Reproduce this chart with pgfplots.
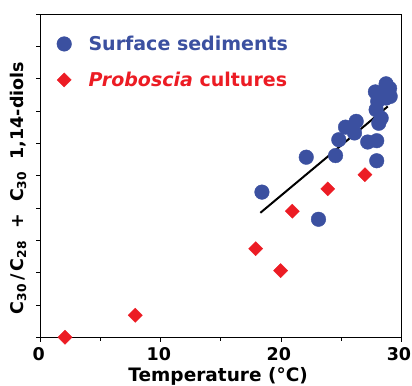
\documentclass[border=0pt]{standalone}
\usepackage{pgfplots}
\pgfplotsset{compat=1.18}
\usepackage{fontspec}
\setmainfont{DejaVu Sans}[ItalicFont={DejaVu Sans Oblique},BoldFont={DejaVu Sans Bold},BoldItalicFont={DejaVu Sans Bold Oblique}]
\definecolor{sedblue}{RGB}{59,80,160}
\definecolor{probred}{RGB}{236,28,36}
\pgfplotstableread{
x y
18.42 4.49
22.11 5.57
23.13 3.65
24.55 5.62
24.82 6.11
25.38 6.50
26.13 6.32
26.27 6.68
27.23 6.04
27.98 6.08
27.98 5.46
27.87 7.59
27.93 7.04
28.06 7.30
28.15 6.62
28.35 6.78
28.76 7.84
28.89 7.56
28.76 7.40
29.10 7.45
29.05 7.70
}\sediments
\pgfplotstableread{
x y
2.02 0.00
7.87 0.68
17.90 2.74
19.98 2.06
20.95 3.90
23.90 4.59
27.00 5.03
}\cultures
\pgfplotstableread{
x y
18.29 3.85
28.90 7.14
}\fitline
\begin{document}
\begin{tikzpicture}
\begin{axis}[
  scale only axis, width=360pt, height=323pt,
  xmin=0, xmax=30, ymin=0, ymax=10,
  clip=false,
  xtick={0,10,20,30}, minor xtick={5,15,25},
  ytick={0,1,...,10}, yticklabels={},
  tick align=outside, xtick pos=left, ytick pos=left,
  major tick length=4.5pt, minor tick length=3.5pt,
  axis line style={line width=0.8pt},
  every tick/.style={black, line width=0.8pt},
  /pgf/number format/assume math mode=true,
  xticklabel style={font=\fontsize{17.5}{20}\selectfont\bfseries, inner sep=0pt, yshift=-6pt, xshift=-2pt},
  xlabel={Temperature (°C)},
  ylabel={C\textsubscript{30}\,/\,C\textsubscript{28}\ \ +\ \ C\textsubscript{30}\ \ 1,14-diols},
  xlabel style={font=\fontsize{18.5}{21}\selectfont\bfseries, inner sep=0pt, at={(axis description cs:0.4925,0)}, anchor=center, yshift=-39pt},
  ylabel style={font=\fontsize{17.5}{20}\selectfont\bfseries, at={(axis description cs:-0.063,0.462)}, anchor=center},
  legend style={at={(axis cs:1.08,9.45)}, anchor=north west, draw=none, fill=none,
    font=\fontsize{19}{22}\selectfont\bfseries, row sep=16pt,
    legend cell align=left,
    /tikz/every odd column/.append style={column sep=15pt}},
]
\addplot[only marks, mark=*, mark size=7.3pt, color=sedblue, mark options={draw=sedblue, fill=sedblue}] table {\sediments};
\addlegendentry{\textcolor{sedblue}{Surface sediments}}
\addplot[only marks, mark=square*, mark size=5pt, color=probred, mark options={rotate=45, draw=probred, fill=probred}] table {\cultures};
\addlegendentry{\textcolor{probred}{\textit{Proboscia} cultures}}
\addplot[black, line width=2pt, forget plot] table {\fitline};
\end{axis}
\pgfresetboundingbox
\path ([xshift=-40.7pt,yshift=14pt]current axis.north west) rectangle ([xshift=11pt,yshift=-48pt]current axis.south east);
\end{tikzpicture}
\end{document}
